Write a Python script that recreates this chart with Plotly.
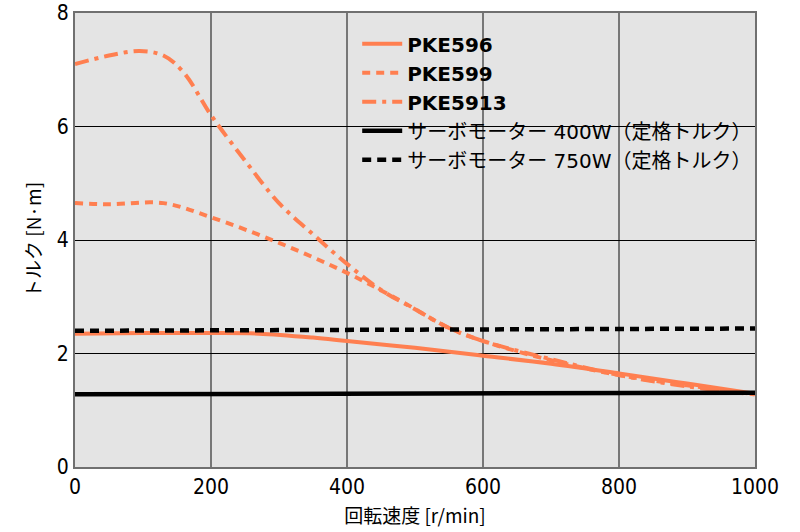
import plotly.graph_objects as go

speed_596 = [0, 100, 200, 270, 350, 400, 500, 600, 700, 800, 900, 1000]
torque_596 = [2.35, 2.36, 2.36, 2.35, 2.28, 2.22, 2.1, 1.96, 1.82, 1.65, 1.47, 1.29]

speed_599 = [0, 50, 130, 200, 300, 400, 480, 550, 600, 700, 800, 900, 1000]
torque_599 = [4.65, 4.63, 4.65, 4.4, 3.95, 3.42, 2.92, 2.45, 2.22, 1.88, 1.62, 1.44, 1.28]

speed_5913 = [0, 50, 95, 130, 160, 200, 250, 300, 350, 400, 450, 500, 550, 600, 700, 800, 900, 1000]
torque_5913 = [7.1, 7.25, 7.33, 7.25, 6.95, 6.2, 5.4, 4.65, 4.1, 3.58, 3.12, 2.78, 2.45, 2.22, 1.9, 1.62, 1.42, 1.28]

speed_servo = [0, 1000]
torque_400w = [1.28, 1.31]
torque_750w = [2.4, 2.44]

names = ["<b>PKE596</b>", "<b>PKE599</b>", "<b>PKE5913</b>",
         "サーボモーター 400W（定格トルク）", "サーボモーター 750W（定格トルク）"]
x_ticks = [0, 200, 400, 600, 800, 1000]
y_ticks = [0, 2, 4, 6, 8]

orange = "#FF7F50"
fig = go.Figure()
fig.add_trace(go.Scatter(x=speed_596, y=torque_596, mode="lines", name=names[0],
                         line=dict(color=orange, width=4, shape="spline")))
fig.add_trace(go.Scatter(x=speed_599, y=torque_599, mode="lines", name=names[1],
                         line=dict(color=orange, width=4, dash="8px,6px", shape="spline")))
fig.add_trace(go.Scatter(x=speed_5913, y=torque_5913, mode="lines", name=names[2],
                         line=dict(color=orange, width=4, dash="14px,6px,4px,6px", shape="spline")))
fig.add_trace(go.Scatter(x=speed_servo, y=torque_400w, mode="lines", name=names[3],
                         line=dict(color="black", width=4.5)))
fig.add_trace(go.Scatter(x=speed_servo, y=torque_750w, mode="lines", name=names[4],
                         line=dict(color="black", width=4.5, dash="9px,6px")))

tickfont = dict(family="Liberation Sans Narrow, DejaVu Sans Condensed, sans-serif", size=21, color="black")
fig.update_layout(
    width=800, height=532,
    margin=dict(l=75, r=45, t=13, b=65),
    paper_bgcolor="white", plot_bgcolor="#E4E4E4",
    showlegend=True,
    legend=dict(x=0.415, y=0.975, xanchor="left", yanchor="top",
                bgcolor="rgba(0,0,0,0)", font=dict(family="DejaVu Sans, Noto Sans CJK JP", size=20, color="black"),
                tracegroupgap=0, itemwidth=40),
    xaxis=dict(range=[0, 1000], tickvals=x_ticks, tickfont=tickfont, automargin=False,
               showgrid=True, gridcolor="#777777", gridwidth=1.5,
               showline=True, linecolor="#707070", linewidth=2, mirror=True,
               zeroline=False, ticks="",
               title=dict(text="回転速度 [r/min]", font=dict(family="Noto Sans CJK JP", size=19, color="black"), standoff=11)),
    yaxis=dict(range=[0, 8], tickvals=y_ticks, tickfont=tickfont, automargin=False,
               showgrid=True, gridcolor="black", gridwidth=1,
               showline=True, linecolor="#707070", linewidth=2, mirror=True,
               zeroline=False, ticks="",
               title=dict(text="トルク [N·m]", font=dict(family="Noto Sans CJK JP", size=19, color="black"), standoff=10)),
)
fig.write_html("out.html")
